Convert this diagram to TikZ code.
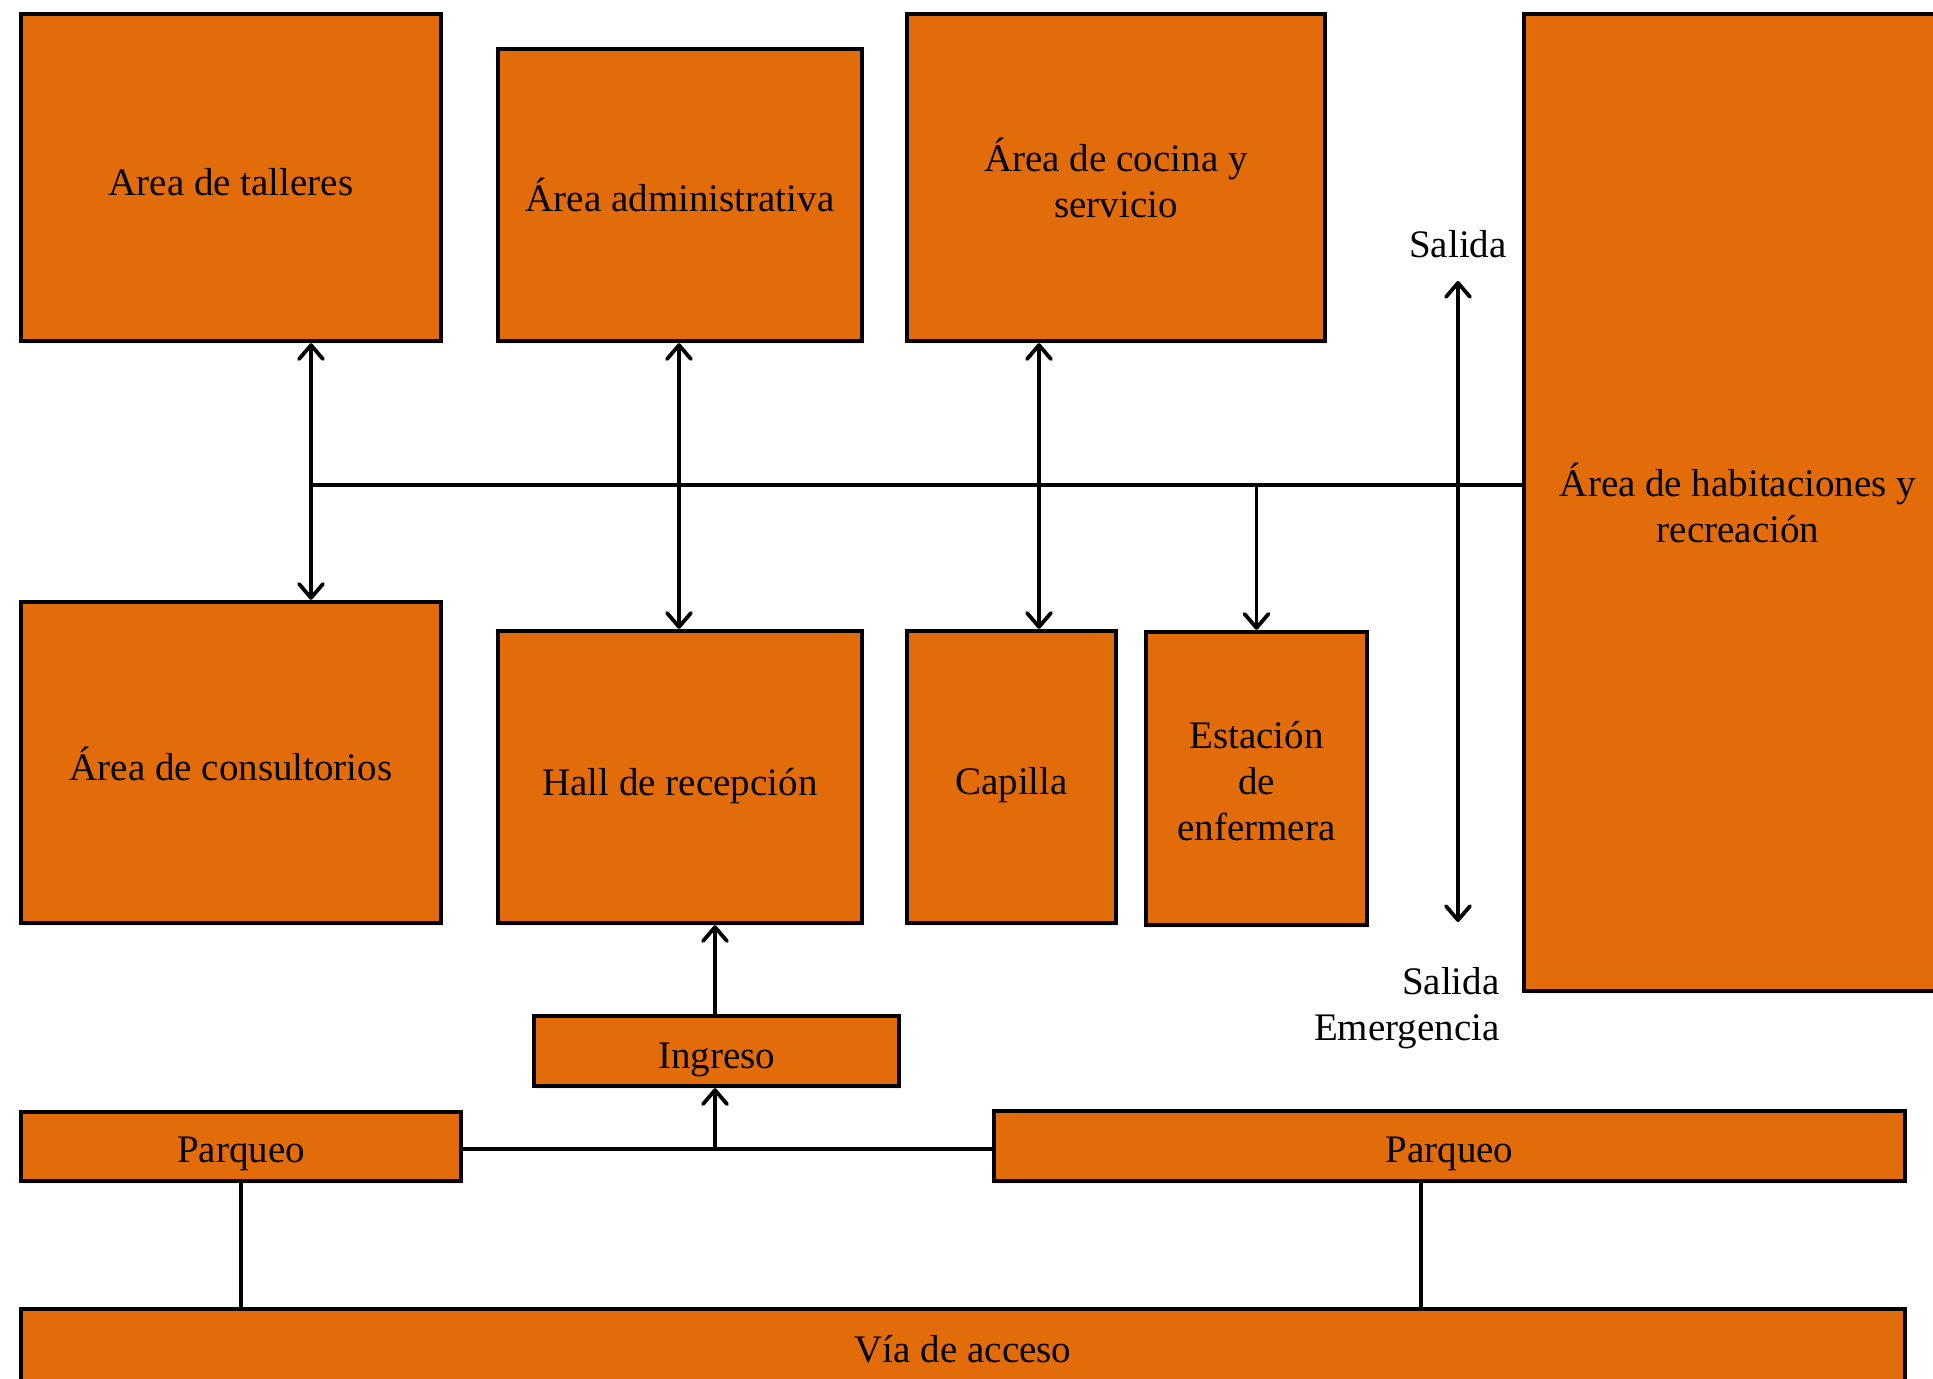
\documentclass[tikz,border=0pt]{standalone}
\usepackage{fontspec}
\setmainfont{Liberation Serif}
\usetikzlibrary{arrows.meta,shadows}
\definecolor{boxorange}{HTML}{E36C0A}
\newcommand\dn[2]{\raisebox{-#1}[\height][\depth]{#2}}
\begin{document}
\begin{tikzpicture}[x=0.5pt,y=-0.5pt,
  box/.style={draw=black, line width=2.2pt, fill=boxorange, rectangle, inner sep=2pt,
    align=center, font=\fontsize{19.5}{23}\selectfont,
    drop shadow={opacity=0.12, shadow xshift=1pt, shadow yshift=-1.5pt}},
  conn/.style={line width=1.9pt, line cap=round},
  barb/.tip={Straight Barb[length=7pt,width=12pt,line width=1.9pt,line cap=round,round]},
  tip/.style={-barb},
  dtip/.style={barb-barb},
  lbl/.style={font=\fontsize{19.5}{23}\selectfont, inner sep=0pt}]
\useasboundingbox (0,0) rectangle (1933,1378);
\clip (0,0) rectangle (1933,1378);
\fill[white] (0,0) rectangle (1933,1378);

% boxes
\node[box, minimum width=210pt, minimum height=163.5pt] (talleres) at (231,177.5) {\dn{2.5pt}{Area de talleres}};
\node[box, minimum width=182pt, minimum height=146pt] (admin) at (680,195) {Área administrativa};
\node[box, minimum width=209pt, minimum height=163.5pt] (cocina) at (1116,177.5) {Área de cocina y\\servicio};
\node[box, minimum width=214pt, minimum height=488.5pt] (habit) at (1738,502.5) {Área de habitaciones y\\recreación};
\node[box, minimum width=210pt, minimum height=160.5pt] (consult) at (231,762.5) {\dn{0.6pt}{Área de consultorios}};
\node[box, minimum width=182pt, minimum height=146pt] (hall) at (680,777) {\dn{4.3pt}{Hall de recepción}};
\node[box, minimum width=104.5pt, minimum height=146pt] (capilla) at (1011.5,777) {\dn{4.3pt}{Capilla}};
\node[box, minimum width=110.5pt, minimum height=146.5pt] (enf) at (1256.5,778.5) {\dn{1.5pt}{Estación}\\\dn{1.5pt}{de}\\\dn{1.5pt}{enfermera}};
\node[box, minimum width=182.5pt, minimum height=35pt] (ingreso) at (716.5,1051) {\dn{4.3pt}{Ingreso}};
\node[box, minimum width=220pt, minimum height=34.5pt] (parqL) at (241,1146.5) {\dn{3.7pt}{Parqueo}};
\node[box, minimum width=455.5pt, minimum height=35pt] (parqR) at (1449.5,1146) {\dn{3.7pt}{Parqueo}};
\node[box, minimum width=942pt, minimum height=40.5pt] (via) at (963,1349.5) {Vía de acceso};

% labels
\node[lbl] (salida) at (1458,244) {Salida};
\node[lbl, align=right, anchor=east] (salidaem) at (1500,1008) {Salida\\Emergencia};

% helper coordinates
\coordinate (x1) at (311,485);
\coordinate (xa) at (679,485);
\coordinate (xc) at (1039,485);
\coordinate (s1) at (1458,281);
\coordinate (s2) at (1458,922);
\coordinate (xi) at (715,1149);
\coordinate (xr) at (1421,1181);

% connectors
\draw[conn] (x1) -- (x1 -| habit.west);
\draw[conn, dtip] (x1 |- talleres.south) -- (x1 |- consult.north);
\draw[conn, dtip] (xa |- admin.south) -- (xa |- hall.north);
\draw[conn, dtip] (xc |- cocina.south) -- (xc |- capilla.north);
\draw[conn, tip] (enf.north |- x1) -- (enf.north);
\draw[conn, dtip] (s2) -- (s1);

\draw[conn] (parqL.east |- xi) -- (parqR.west |- xi);
\draw[conn, tip] (xi) -- (xi |- ingreso.south);
\draw[conn, tip] (xi |- ingreso.north) -- (xi |- hall.south);
\draw[conn] (parqL.south) -- (parqL.south |- via.north);
\draw[conn] (xr |- parqR.south) -- (xr |- via.north);
\end{tikzpicture}
\end{document}
